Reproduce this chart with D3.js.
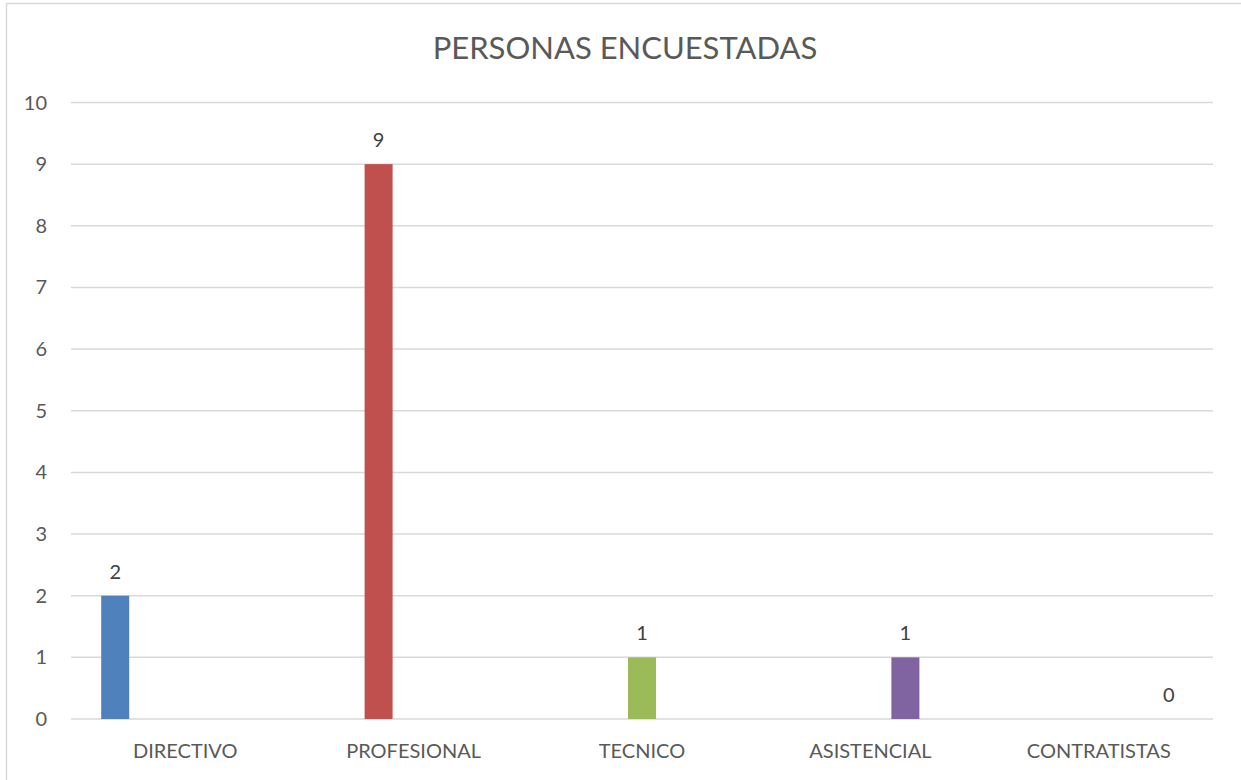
<!DOCTYPE html>
<html>
<head>
<meta charset="utf-8">
<script src="https://cdn.jsdelivr.net/npm/d3@7"></script>
<style>
  body { margin: 0; background: #fff; }
  text { font-family: Lato, "Open Sans", sans-serif; fill: #595959; }
</style>
</head>
<body>
<div class="wrapper"></div>
<script>
const categories = ["DIRECTIVO", "PROFESIONAL", "TECNICO", "ASISTENCIAL", "CONTRATISTAS"];
// one series per category, as in the original workbook
const seriesNames = ["DIRECTIVO", "PROFESIONAL", "TECNICO", "ASISTENCIAL", "CONTRATISTAS"];
const values = [2, 9, 1, 1, 0];
const colors = ["#4f81bd", "#c0504d", "#9bbb59", "#8064a2", "#4bacc6"];
const yTicks = [0, 1, 2, 3, 4, 5, 6, 7, 8, 9, 10];
const title = "PERSONAS ENCUESTADAS";

const width = 1241, height = 780;
const margin = {top: 102.5, right: 28, bottom: 61, left: 71};

const svg = d3.select(".wrapper").append("svg")
    .attr("width", width)
    .attr("height", height);

// chart border (only top and left edges are visible in the frame)
svg.append("rect")
    .attr("x", 6.5).attr("y", 3.5)
    .attr("width", width + 20).attr("height", height + 20)
    .attr("fill", "none")
    .attr("stroke", "#d9d9d9")
    .attr("stroke-width", 1.5);

const x0 = d3.scaleBand()
    .domain(categories)
    .range([margin.left, width - margin.right])
    .padding(0);

const x1 = d3.scaleBand()
    .domain(seriesNames)
    .range([0, x0.bandwidth()])
    .paddingInner(0.2)
    .paddingOuter(0.863);

const y = d3.scaleLinear()
    .domain([0, 10])
    .range([height - margin.bottom, margin.top]);

// gridlines
svg.append("g")
    .selectAll("line")
    .data(yTicks)
    .join("line")
    .attr("x1", margin.left)
    .attr("x2", width - margin.right)
    .attr("y1", d => y(d))
    .attr("y2", d => y(d))
    .attr("stroke", "#d9d9d9")
    .attr("stroke-width", 1.5);

// y tick labels
svg.append("g")
    .selectAll("text")
    .data(yTicks)
    .join("text")
    .attr("x", 47)
    .attr("y", d => y(d))
    .attr("dy", "0.35em")
    .attr("text-anchor", "end")
    .style("font-size", "20px")
    .text(d => d);

// bars
const data = categories.map((c, i) => ({cat: c, series: seriesNames[i], value: values[i], color: colors[i]}));

svg.append("g")
    .selectAll("rect")
    .data(data)
    .join("rect")
    .attr("x", d => x0(d.cat) + x1(d.series))
    .attr("y", d => y(d.value))
    .attr("width", x1.bandwidth())
    .attr("height", d => y(0) - y(d.value))
    .attr("fill", d => d.color);

// value labels
svg.append("g")
    .selectAll("text")
    .data(data)
    .join("text")
    .attr("x", d => x0(d.cat) + x1(d.series) + x1.bandwidth() / 2)
    .attr("y", d => y(d.value) - 17)
    .attr("text-anchor", "middle")
    .style("font-size", "20px")
    .style("fill", "#404040")
    .text(d => d.value);

// category labels
svg.append("g")
    .selectAll("text")
    .data(categories)
    .join("text")
    .attr("x", d => x0(d) + x0.bandwidth() / 2)
    .attr("y", 758)
    .attr("text-anchor", "middle")
    .style("font-size", "20px")
    .text(d => d);

// title
svg.append("text")
    .attr("x", 625)
    .attr("y", 59)
    .attr("text-anchor", "middle")
    .style("font-size", "31px")
    .text(title);
</script>
</body>
</html>
